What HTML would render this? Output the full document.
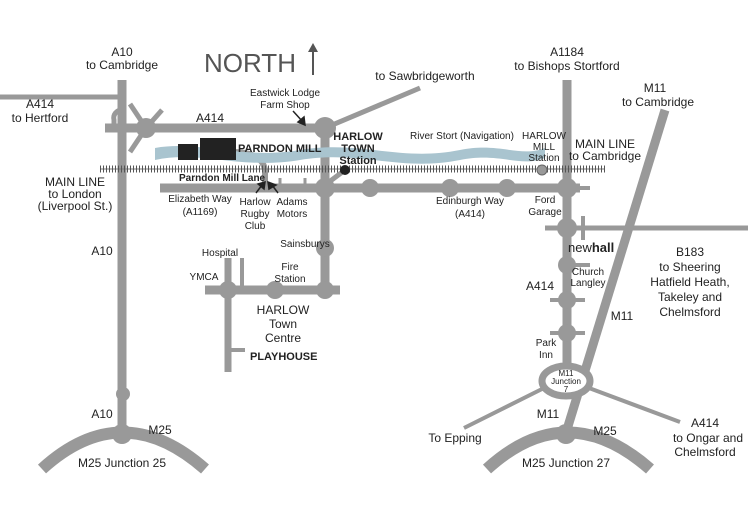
<!DOCTYPE html>
<html><head><style>body{margin:0;background:#fff}svg{display:block}text{font-family:"Liberation Sans",sans-serif;fill:#222}</style></head><body>
<svg width="748" height="519" viewBox="0 0 748 519">
<g stroke="#999" fill="none" stroke-linecap="butt">
<path d="M42 469 Q122 396 205 469" stroke-width="12"/>
<path d="M487 469 Q567 396 650 469" stroke-width="12"/>
<line x1="122" y1="80" x2="122" y2="435" stroke-width="9"/>
<line x1="0" y1="97" x2="122" y2="97" stroke-width="5"/>
<path d="M122 110 A8 8 0 0 0 114 120 L114 126" stroke-width="5"/>
<line x1="105" y1="128" x2="325" y2="128" stroke-width="9"/>
<line x1="146" y1="128" x2="130" y2="104" stroke-width="5"/>
<line x1="146" y1="128" x2="130" y2="152" stroke-width="5"/>
<line x1="146" y1="128" x2="162" y2="110" stroke-width="5"/>
<line x1="325" y1="128" x2="420" y2="88" stroke-width="5"/>
<line x1="325" y1="122" x2="325" y2="292" stroke-width="9"/>
<line x1="160" y1="188" x2="580" y2="188" stroke-width="9"/>
<line x1="345" y1="170" x2="325" y2="185" stroke-width="5"/>
<path d="M233 152 Q262 152 265 170 L265 188" stroke-width="6"/>
<line x1="280" y1="178" x2="280" y2="188" stroke-width="3"/>
<line x1="305" y1="178" x2="305" y2="188" stroke-width="3"/>
<line x1="567" y1="80" x2="567" y2="366" stroke-width="9"/>
<line x1="545" y1="228" x2="748" y2="228" stroke-width="5"/>
<line x1="583" y1="216" x2="583" y2="240" stroke-width="4"/>
<line x1="567" y1="265" x2="590" y2="265" stroke-width="4"/>
<line x1="550" y1="300" x2="585" y2="300" stroke-width="4"/>
<line x1="550" y1="333" x2="585" y2="333" stroke-width="4"/>
<line x1="567" y1="188" x2="590" y2="188" stroke-width="4"/>
<line x1="665" y1="110" x2="565" y2="436" stroke-width="9"/>
<ellipse cx="566" cy="381" rx="24" ry="15" stroke-width="7" fill="#fff"/>
<line x1="544" y1="388" x2="464" y2="428" stroke-width="4"/>
<line x1="589" y1="388" x2="680" y2="422" stroke-width="4"/>
<line x1="205" y1="290" x2="340" y2="290" stroke-width="9"/>
<line x1="228" y1="258" x2="228" y2="372" stroke-width="7"/>
<line x1="242" y1="258" x2="242" y2="290" stroke-width="4"/>
<line x1="228" y1="350" x2="245" y2="350" stroke-width="4"/>
</g>
<g fill="#999">
<circle cx="146" cy="128" r="10"/><circle cx="325" cy="128" r="11"/>
<circle cx="325" cy="188" r="10"/><circle cx="370" cy="188" r="9"/><circle cx="450" cy="188" r="9"/><circle cx="507" cy="188" r="9"/><circle cx="567" cy="188" r="10"/>
<circle cx="567" cy="228" r="10"/><circle cx="567" cy="265" r="9"/><circle cx="567" cy="300" r="9"/><circle cx="567" cy="333" r="9"/>
<circle cx="325" cy="248" r="9"/><circle cx="325" cy="290" r="9"/><circle cx="275" cy="290" r="9"/><circle cx="228" cy="290" r="9"/>
<circle cx="123" cy="394" r="7"/><circle cx="122" cy="434" r="10"/><circle cx="566" cy="434" r="10"/>
</g>
<path d="M155 148 C200 140 240 160 300 150 C360 140 400 162 460 150 C500 142 520 158 545 148 L545 158 C520 168 500 152 460 160 C400 172 360 150 300 160 C240 170 200 150 155 160 Z" fill="#a9c4cf"/>
<line x1="100" y1="169" x2="605" y2="169" stroke="#777" stroke-width="1"/>
<line x1="100" y1="169" x2="605" y2="169" stroke="#555" stroke-width="7" stroke-dasharray="1 2"/>
<circle cx="345" cy="170" r="5" fill="#222"/>
<circle cx="542" cy="170" r="5" fill="#999" stroke="#666"/>
<g fill="#222"><rect x="178" y="144" width="20" height="16"/><rect x="200" y="138" width="36" height="22"/></g>
<line x1="313" y1="75" x2="313" y2="48" stroke="#555" stroke-width="2"/><path d="M308 52 L313 43 L318 52Z" fill="#555"/>
<text x="204" y="72" font-size="26" style="fill:#555">NORTH</text>
<g font-size="12" text-anchor="middle">
<text x="122" y="56">A10</text><text x="122" y="69">to Cambridge</text>
<text x="40" y="108">A414</text><text x="40" y="122">to Hertford</text>
<text x="210" y="122">A414</text>
<text x="425" y="80">to Sawbridgeworth</text>
<text x="567" y="56">A1184</text><text x="567" y="70">to Bishops Stortford</text>
<text x="655" y="92">M11</text><text x="658" y="106">to Cambridge</text>
<text x="75" y="186">MAIN LINE</text><text x="75" y="198">to London</text><text x="75" y="210">(Liverpool St.)</text>
<text x="605" y="148">MAIN LINE</text><text x="605" y="160">to Cambridge</text>
<text x="102" y="255">A10</text><text x="102" y="418">A10</text>
<text x="160" y="434">M25</text><text x="122" y="467">M25 Junction 25</text>
<text x="566" y="467">M25 Junction 27</text><text x="605" y="435">M25</text>
<text x="548" y="418">M11</text><text x="622" y="320">M11</text>
<text x="455" y="442">To Epping</text>
<text x="705" y="427">A414</text><text x="708" y="442">to Ongar and</text><text x="705" y="456">Chelmsford</text>
<text x="540" y="290">A414</text>
<text x="690" y="256">B183</text><text x="690" y="271">to Sheering</text><text x="690" y="286">Hatfield Heath,</text><text x="690" y="301">Takeley and</text><text x="690" y="316">Chelmsford</text>
<text x="283" y="314">HARLOW</text><text x="283" y="328">Town</text><text x="283" y="342">Centre</text>
<text x="462" y="139" font-size="10">River Stort (Navigation)</text>
</g>
<g font-size="10" text-anchor="middle">
<text x="285" y="96">Eastwick Lodge</text><text x="285" y="108">Farm Shop</text>
<text x="200" y="202">Elizabeth Way</text><text x="200" y="215">(A1169)</text>
<text x="255" y="205">Harlow</text><text x="255" y="217">Rugby</text><text x="255" y="229">Club</text>
<text x="292" y="205">Adams</text><text x="292" y="217">Motors</text>
<text x="470" y="204">Edinburgh Way</text><text x="470" y="217">(A414)</text>
<text x="544" y="139">HARLOW</text><text x="544" y="150">MILL</text><text x="544" y="161">Station</text>
<text x="545" y="203">Ford</text><text x="545" y="215">Garage</text>
<text x="588" y="275">Church</text><text x="588" y="286">Langley</text>
<text x="546" y="346">Park</text><text x="546" y="358">Inn</text>
<text x="305" y="247">Sainsburys</text>
<text x="220" y="256">Hospital</text><text x="204" y="280">YMCA</text>
<text x="290" y="270">Fire</text><text x="290" y="282">Station</text>
</g>
<g font-size="8" text-anchor="middle"><text x="566" y="376">M11</text><text x="566" y="384">Junction</text><text x="566" y="392">7</text></g>
<g font-size="11" font-weight="bold">
<text x="238" y="152">PARNDON MILL</text>
<text x="179" y="181" font-size="10">Parndon Mill Lane</text>
<text x="358" y="140" text-anchor="middle">HARLOW</text><text x="358" y="152" text-anchor="middle">TOWN</text><text x="358" y="164" text-anchor="middle">Station</text>
<text x="250" y="360">PLAYHOUSE</text>
</g>
<text x="568" y="252" font-size="13">new<tspan font-weight="bold">hall</tspan></text>
<g stroke="#222" stroke-width="1.5" fill="#222">
<line x1="293" y1="111" x2="303" y2="122"/><path d="M298 122 L305 125 L304 117Z"/>
<line x1="256" y1="193" x2="262" y2="185"/><path d="M258 184 L265 182 L264 189Z"/>
<line x1="278" y1="193" x2="272" y2="185"/><path d="M269 189 L268 182 L276 185Z"/>
</g>
</svg>
</body></html>
